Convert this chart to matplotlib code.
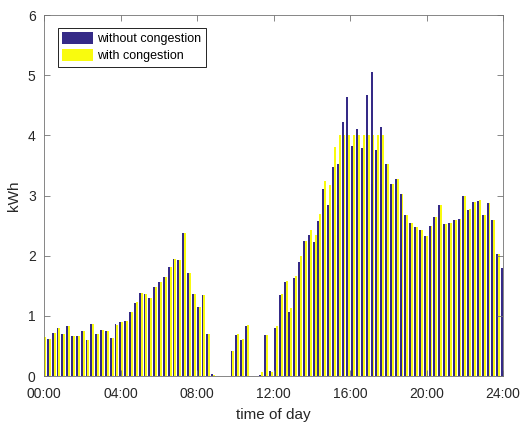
import numpy as np
import matplotlib
matplotlib.use("Agg")
import matplotlib.pyplot as plt

# 15-minute energy per slot (96 slots, 00:00 .. 23:45)
without_congestion = [
    0.65, 0.62, 0.71, 0.79, 0.70, 0.83, 0.67, 0.67, 0.74, 0.60, 0.86, 0.70,
    0.77, 0.74, 0.63, 0.86, 0.90, 0.92, 1.07, 1.22, 1.38, 1.36, 1.29, 1.48,
    1.57, 1.64, 1.82, 1.95, 1.93, 2.38, 1.72, 1.37, 1.14, 1.35, 0.69, 0.03,
    0.00, 0.00, 0.00, 0.41, 0.68, 0.60, 0.83, 0.00, 0.00, 0.02, 0.68, 0.08,
    0.79, 1.35, 1.56, 1.07, 1.63, 1.89, 2.25, 2.35, 2.23, 2.58, 3.10, 2.85,
    3.47, 3.52, 4.23, 4.64, 3.82, 4.10, 3.79, 4.67, 5.06, 3.75, 4.14, 3.53,
    3.19, 3.27, 3.03, 2.68, 2.55, 2.48, 2.42, 2.33, 2.50, 2.65, 2.85, 2.53,
    2.54, 2.60, 2.61, 3.00, 2.76, 2.89, 2.91, 2.67, 2.87, 2.60, 2.03, 1.79,
]
with_congestion = [
    0.65, 0.62, 0.71, 0.79, 0.70, 0.83, 0.67, 0.67, 0.74, 0.60, 0.86, 0.70,
    0.77, 0.74, 0.63, 0.84, 0.90, 0.92, 1.07, 1.23, 1.38, 1.36, 1.29, 1.48,
    1.57, 1.65, 1.82, 1.94, 1.93, 2.38, 1.72, 1.37, 1.14, 1.34, 0.69, 0.01,
    0.00, 0.00, 0.00, 0.41, 0.70, 0.61, 0.84, 0.00, 0.00, 0.06, 0.68, 0.06,
    0.83, 1.36, 1.58, 1.13, 1.67, 1.99, 2.25, 2.43, 2.34, 2.70, 3.24, 3.18,
    3.81, 4.00, 4.00, 4.00, 4.00, 4.00, 4.00, 4.00, 4.00, 4.00, 4.00, 3.53,
    3.19, 3.28, 3.03, 2.68, 2.55, 2.48, 2.43, 2.33, 2.50, 2.65, 2.84, 2.53,
    2.54, 2.59, 2.61, 2.99, 2.77, 2.90, 2.92, 2.67, 2.87, 2.60, 2.03, 1.79,
]
tick_labels = ["00:00", "04:00", "08:00", "12:00", "16:00", "20:00", "24:00"]
series_labels = ["without congestion", "with congestion"]

plt.rcParams["font.family"] = ["Liberation Sans", "DejaVu Sans"]

fig = plt.figure(figsize=(5.22, 4.23), dpi=100)
ax = fig.add_axes([0.0843, 0.1111, 0.8793, 0.8534])

x = np.arange(len(without_congestion))
w = 0.4
ax.bar(x - w / 2, without_congestion, width=w, color="#352a87",
       linewidth=0, label=series_labels[0])
ax.bar(x + w / 2, with_congestion, width=w, color="#f9fb0e",
       linewidth=0, label=series_labels[1])

ax.set_xlim(0, len(x) - 1)
ax.set_ylim(0, 6)
ax.set_xticks(np.linspace(0, len(x) - 1, len(tick_labels)))
ax.set_xticklabels(tick_labels)
ax.set_yticks(range(0, 7))

ax.tick_params(direction="in", length=4, width=0.6, color="0.45",
               labelsize=10, labelcolor="0.15", top=True, right=True)
ax.tick_params(axis="x", pad=8)
ax.tick_params(axis="y", pad=6)
for s in ax.spines.values():
    s.set_color("0.45")
    s.set_linewidth(0.6)

ax.set_xlabel("time of day", fontsize=11, color="0.15", labelpad=5)
ax.set_ylabel("kWh", fontsize=11, color="0.15", labelpad=5)

leg = ax.legend(loc="upper left", bbox_to_anchor=(0.03, 0.965),
                borderaxespad=0, fontsize=9, fancybox=False, framealpha=1,
                edgecolor="black", handlelength=2.5, handleheight=1.1,
                handletextpad=0.3, borderpad=0.35, labelspacing=0.3)
leg.get_frame().set_linewidth(0.6)

fig.savefig("out.png", dpi=100)
